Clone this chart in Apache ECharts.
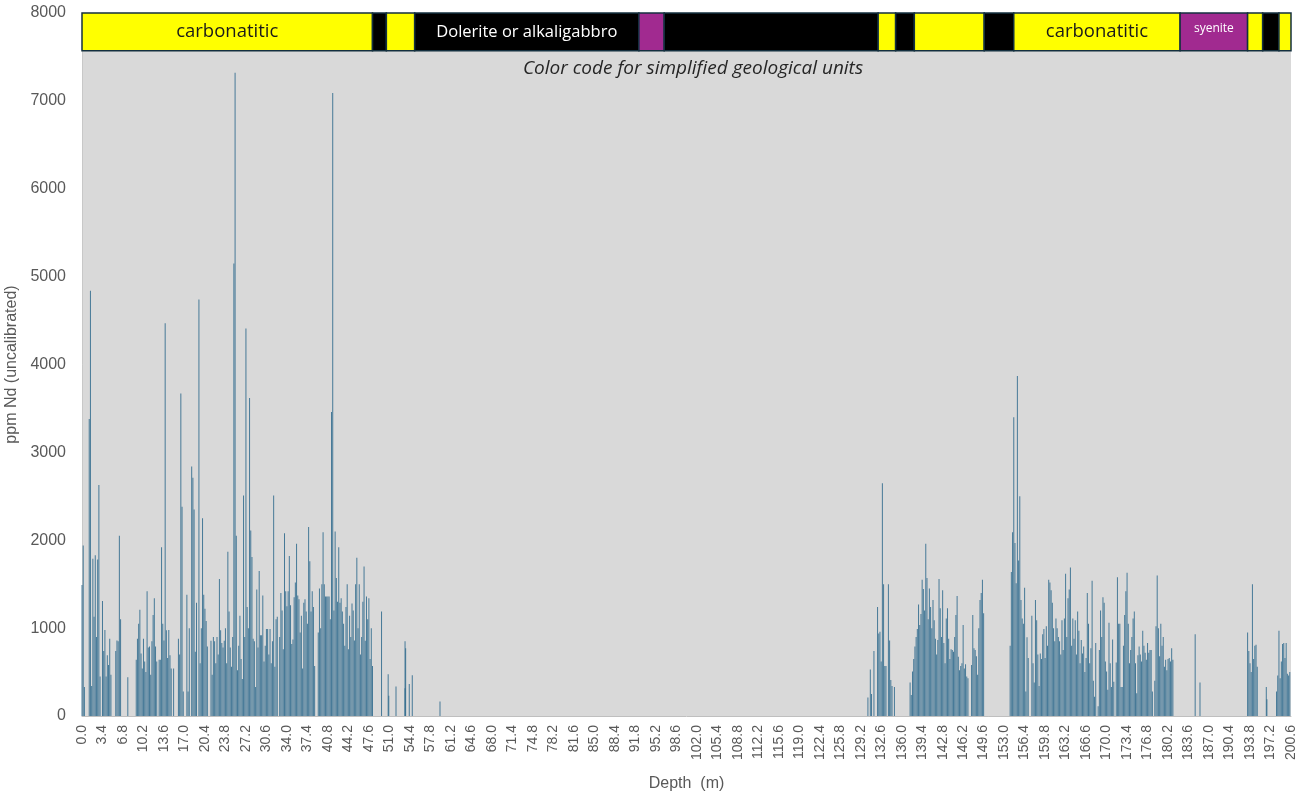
<!DOCTYPE html>
<html>
<head>
<meta charset="utf-8">
<title>ppm Nd vs depth</title>
<script src="https://cdn.jsdelivr.net/npm/echarts@6/dist/echarts.min.js"></script>
<style>
  html, body { margin: 0; padding: 0; background: #fff; }
  #chart { width: 1303px; height: 798px; }
</style>
</head>
<body>
<div id="chart"></div>
<script>
// depth step of the logged samples (m)
var STEP = 0.2

// 0.0 - 48.2 m, upper carbonatitic unit
var segA = [
  1490, 1940, 330, 0, 0,
  0, 3380, 4840, 340, 1790,
  1130, 1830, 900, 1780, 2630,
  450, 0, 1310, 740, 980,
  450, 690, 580, 880, 470,
  0, 0, 0, 740, 860,
  850, 2050, 1100, 0, 0,
  0, 0, 0, 440, 0,
  0, 0, 0, 0, 0,
  640, 880, 1050, 1210, 710,
  540, 880, 620, 500, 1420,
  780, 790, 470, 850, 1150,
  1340, 790, 620, 0, 640,
  640, 1920, 1050, 860, 4470,
  975, 660, 980, 690, 540,
  0, 540, 0, 0, 0,
  880, 700, 3670, 2380, 280,
  0, 0, 1380, 280, 1000,
  0, 2840, 2710, 2350, 730,
  1290, 0, 4740, 600, 1000,
  2250, 1380, 1220, 1080, 790,
  0, 0, 855, 470, 900,
  850, 600, 900, 700, 1560,
  975, 830, 780, 855, 1000,
  600, 1870, 1190, 780, 560,
  900, 5150, 7320, 2050, 520,
  800, 1140, 650, 420, 2510,
  900, 4410, 1240, 1000, 3620,
  2110, 1810, 880, 850, 330,
  1440, 780, 1650, 920, 920,
  1370, 620, 800, 990, 990,
  700, 990, 600, 850, 2510,
  560, 1100, 1130, 0, 900,
  1400, 1200, 760, 2080, 1420,
  1250, 1420, 1820, 1260, 820,
  870, 1350, 1520, 1960, 1370,
  1330, 950, 1140, 540, 1290,
  1330, 1190, 1050, 2150, 1760,
  1190, 1420, 1240, 570, 0,
  0, 950, 1450, 1000, 1500,
  2090, 1500, 1360, 1360, 1360,
  1360, 1100, 3460, 7090, 1200,
  2100, 1570, 1300, 1920, 1290,
  1340, 1190, 1050, 800, 1240,
  1500, 760, 1140, 900, 1280,
  1200, 860, 1500, 1800, 1000,
  1500, 700, 900, 1300, 1700,
  855, 1360, 1100, 1340, 650,
  1000, 570
]

// isolated samples, [depth, ppm]
var sparseLeft = [
  [49.7, 1190], [50.8, 475], [50.9, 230], [52.1, 335],
  [53.6, 850], [53.7, 770], [53.6, 315], [54.3, 365], [54.8, 465], [59.4, 165]
]

// 130.2 - 149.8 m
var segC = [
  0, 210, 0, 530, 250,
  0, 740, 0, 0, 1240,
  940, 960, 620, 2650, 1500,
  570, 570, 0, 1500, 860,
  410, 340, 0, 330, 0,
  0, 0, 0, 0, 0,
  0, 0, 0, 0, 0,
  0, 380, 240, 505, 650,
  790, 900, 990, 1270, 1035,
  1160, 1550, 1445, 1200, 1960,
  1570, 1100, 1450, 1240, 1000,
  1320, 1090, 880, 700, 865,
  1560, 1225, 900, 1430, 830,
  600, 1110, 1225, 880, 650,
  760, 750, 730, 900, 1150,
  1365, 675, 520, 570, 600,
  1035, 540, 590, 450, 430,
  0, 0, 580, 1150, 770,
  750, 680, 470, 1000, 1320,
  1400, 1550, 1170, 0
]

// 154.0 - 181.0 m, lower carbonatitic unit
var segD = [
  800, 1640, 2090, 3400, 1970,
  1510, 3870, 1770, 2500, 1320,
  1110, 1050, 1460, 280, 895,
  660, 0, 0, 1140, 600,
  380, 1320, 1090, 700, 340,
  710, 650, 930, 990, 660,
  1020, 800, 1550, 1520, 1430,
  1290, 1000, 850, 1110, 1000,
  900, 850, 700, 1090, 750,
  1110, 1620, 900, 1340, 1440,
  1690, 800, 1110, 880, 1090,
  700, 1190, 970, 600, 865,
  710, 790, 500, 660, 1400,
  1050, 600, 770, 1540, 400,
  220, 830, 0, 110, 750,
  1200, 900, 1350, 1290, 620,
  505, 300, 1060, 600, 330,
  870, 390, 0, 610, 1580,
  1050, 1050, 330, 330, 800,
  1150, 1420, 1630, 1050, 600,
  750, 900, 1110, 1190, 600,
  260, 690, 790, 700, 620,
  970, 800, 720, 640, 830,
  720, 750, 750, 280, 0,
  400, 1020, 1600, 1000, 680,
  1050, 800, 900, 560, 640,
  520, 650, 660, 620, 770,
  640
]

var sparseRight = [[184.7, 930], [185.5, 380], [196.5, 330], [196.6, 190]]

// 193.4 - 195.2 m
var segE = [950, 740, 600, 500, 1500, 650, 800, 810, 560, 0]

// 198.2 - 200.4 m
var segF = [280, 460, 970, 430, 620, 820, 830, 660, 830, 480, 460, 500]

// simplified geological units: [label, from, to, colour]
var units = [
  ['carbonatitic', 0, 48.2, '#ffff00'],
  ['', 48.2, 50.5, '#000000'],
  ['', 50.5, 55.2, '#ffff00'],
  ['Dolerite or alkaligabbro', 55.2, 92.4, '#000000'],
  ['', 92.4, 96.6, '#a12a90'],
  ['', 96.6, 132.1, '#000000'],
  ['', 132.1, 135.0, '#ffff00'],
  ['', 135.0, 138.1, '#000000'],
  ['', 138.1, 149.7, '#ffff00'],
  ['', 149.7, 154.6, '#000000'],
  ['carbonatitic', 154.6, 182.2, '#ffff00'],
  ['syenite', 182.2, 193.4, '#a12a90'],
  ['', 193.4, 195.9, '#ffff00'],
  ['', 195.9, 198.6, '#000000'],
  ['', 198.6, 200.6, '#ffff00']
]

function seg(start, vals) {
  return vals.map(function (v, i) {
    return [+(start + i * STEP).toFixed(1), v]
  })
}

var points = [].concat(
  seg(0, segA), sparseLeft, seg(130.2, segC), seg(154.0, segD),
  sparseRight, seg(193.4, segE), seg(198.2, segF)
)

var bandArea = units.map(function (u) {
  var dark = u[3] !== '#ffff00'
  return [{
    name: u[0],
    xAxis: u[1],
    yAxis: 7570,
    itemStyle: { color: u[3], borderColor: '#14303f', borderWidth: 1.5, opacity: 1 },
    label: {
      show: u[0] !== '',
      position: 'inside',
      color: dark ? '#ffffff' : '#1a1a1a',
      fontFamily: 'Open Sans',
      fontSize: u[0] === 'syenite' ? 12 : (dark ? 16.5 : 18.5),
      offset: u[0] === 'syenite' ? [0, -3] : [0, 0]
    }
  }, { xAxis: u[2], yAxis: 8000 }]
})

var chart = echarts.init(document.getElementById('chart'))

chart.setOption({
  animation: false,
  backgroundColor: '#ffffff',
  grid: {
    left: 82, right: 12, top: 13, bottom: 82,
    containLabel: false,
    outerBoundsMode: 'none',
    show: true, backgroundColor: '#d9d9d9', borderWidth: 0
  },
  xAxis: {
    type: 'value',
    min: 0, max: 200.6, interval: 3.4,
    name: 'Depth  (m)',
    nameLocation: 'middle',
    nameGap: 60,
    nameTextStyle: { color: '#595959', fontSize: 16, fontFamily: 'Liberation Sans' },
    axisLine: { show: true, lineStyle: { color: '#bfbfbf' } },
    axisTick: { show: false },
    splitLine: { show: false },
    axisLabel: {
      rotate: 90, margin: 9, color: '#595959', fontSize: 14,
      fontFamily: 'Liberation Sans',
      showMaxLabel: true,
      formatter: function (v) { return v.toFixed(1) }
    }
  },
  yAxis: {
    type: 'value',
    min: 0, max: 8000, interval: 1000,
    name: 'ppm Nd (uncalibrated)',
    nameLocation: 'middle',
    nameGap: 53,
    nameTextStyle: { color: '#595959', fontSize: 16, fontFamily: 'Liberation Sans' },
    axisLine: { show: true, lineStyle: { color: '#c8c8c8' } },
    axisTick: { show: false },
    splitLine: { show: false },
    axisLabel: {
      color: '#595959', fontSize: 16, margin: 16, fontFamily: 'Liberation Sans',
      formatter: function (v) { return String(v) }
    }
  },
  graphic: [{
    type: 'text',
    x: 693, y: 59,
    style: {
      text: 'Color code for simplified geological units',
      font: 'italic 19px "Open Sans"',
      fill: '#262626',
      textAlign: 'center'
    }
  }],
  series: [{
    type: 'bar',
    data: points,
    barWidth: 1,
    itemStyle: { color: 'rgba(45,105,140,0.85)' },
    markArea: {
      silent: true,
      data: bandArea
    }
  }]
})
</script>
</body>
</html>
